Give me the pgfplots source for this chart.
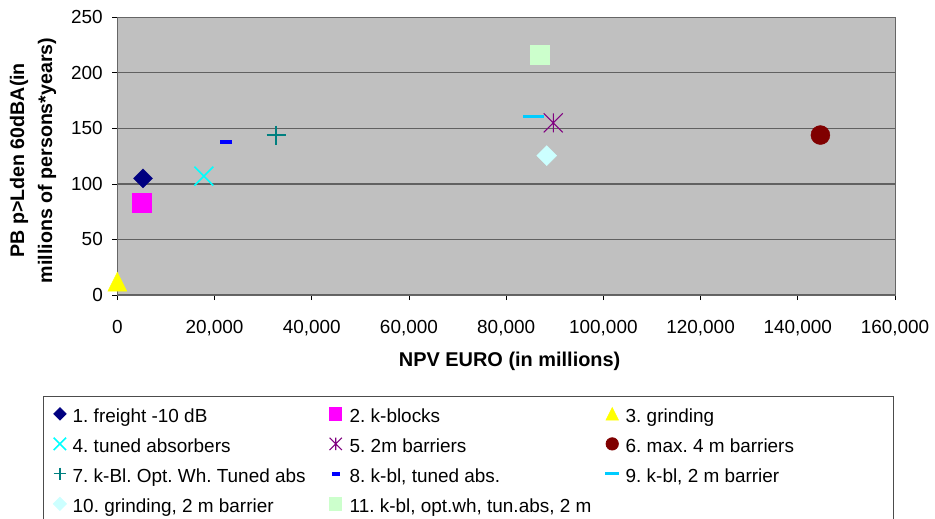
\documentclass[border=0pt]{standalone}
\usepackage{pgfplots}
\pgfplotsset{compat=1.18}
\usepackage{fontspec}
\setmainfont{Liberation Sans}
\frenchspacing

\definecolor{bgray}{HTML}{C0C0C0}
\definecolor{cnavy}{HTML}{000080}
\definecolor{cmag}{HTML}{FF00FF}
\definecolor{cyel}{HTML}{FFFF00}
\definecolor{ccyan}{HTML}{00FFFF}
\definecolor{cpurp}{HTML}{800080}
\definecolor{cdred}{HTML}{800000}
\definecolor{cteal}{HTML}{008080}
\definecolor{cblue}{HTML}{0000FF}
\definecolor{csky}{HTML}{00CCFF}
\definecolor{clcyan}{HTML}{CCFFFF}
\definecolor{clgreen}{HTML}{CCFFCC}

% excel-like marks
\pgfdeclareplotmark{xdiamond*}{%
  \pgfpathmoveto{\pgfqpoint{0pt}{\pgfplotmarksize}}%
  \pgfpathlineto{\pgfqpoint{\pgfplotmarksize}{0pt}}%
  \pgfpathlineto{\pgfqpoint{0pt}{-\pgfplotmarksize}}%
  \pgfpathlineto{\pgfqpoint{-\pgfplotmarksize}{0pt}}%
  \pgfpathclose\pgfusepathqfillstroke}
\pgfdeclareplotmark{xtri*}{%
  \pgfpathmoveto{\pgfqpoint{0pt}{\pgfplotmarksize}}%
  \pgfpathlineto{\pgfqpoint{\pgfplotmarksize}{-\pgfplotmarksize}}%
  \pgfpathlineto{\pgfqpoint{-\pgfplotmarksize}{-\pgfplotmarksize}}%
  \pgfpathclose\pgfusepathqfillstroke}
\pgfdeclareplotmark{xstar}{%
  \pgfpathmoveto{\pgfqpoint{0pt}{-\pgfplotmarksize}}%
  \pgfpathlineto{\pgfqpoint{0pt}{\pgfplotmarksize}}%
  \pgfpathmoveto{\pgfqpoint{-\pgfplotmarksize}{-\pgfplotmarksize}}%
  \pgfpathlineto{\pgfqpoint{\pgfplotmarksize}{\pgfplotmarksize}}%
  \pgfpathmoveto{\pgfqpoint{-\pgfplotmarksize}{\pgfplotmarksize}}%
  \pgfpathlineto{\pgfqpoint{\pgfplotmarksize}{-\pgfplotmarksize}}%
  \pgfusepathqstroke}

\newcommand{\legtxt}[2]{\makebox[#1][l]{\rule[-8.5bp]{0pt}{28bp}#2}}

\begin{document}
\begin{tikzpicture}[font=\fontsize{19}{23}\selectfont]
\path[use as bounding box] (0,0) rectangle (935bp,-519bp);
\begin{axis}[
  at={(117.3bp,-295bp)}, anchor=south west,
  scale only axis, width=777.7bp, height=277.7bp,
  clip=false,
  xmin=0, xmax=160000, ymin=0, ymax=250,
  scaled x ticks=false, scaled y ticks=false,
  xtick={0,20000,40000,60000,80000,100000,120000,140000,160000},
  xticklabels={0,{20,000},{40,000},{60,000},{80,000},{100,000},{120,000},{140,000},{160,000}},
  ytick={0,50,100,150,200,250},
  yticklabels={0,50,100,150,200,250},
  tick pos=left, tick align=outside, major tick length=5bp,
  tick style={black, line width=0.8bp},
  axis background/.style={fill=bgray},
  axis line style={draw=black!60, line width=1bp},
  ymajorgrids, grid style={draw=black!62, line width=1.2bp},
  ticklabel style={font=\fontsize{19}{23}\selectfont},
  xticklabel style={yshift=-17bp},
  yticklabel style={xshift=-6bp},
  xlabel={NPV EURO (in millions)},
  ylabel={PB p>Lden 60dBA(in\\millions of persons*years)},
  every axis x label/.style={at={(axis description cs:0.5045,-0.2377)}, anchor=center,
    font=\fontsize{20}{24}\selectfont\bfseries},
  every axis y label/.style={at={(axis description cs:-0.1084,0.485)}, rotate=90, anchor=center,
    align=center, font=\fontsize{19.7}{28}\selectfont\bfseries},
  legend columns=3,
  legend image code/.code={\path (-7bp,0bp) (7bp,0bp);
    \draw[#1, mark options={scale=0.65}] plot coordinates {(0bp,0bp)};},
  legend style={at={(axis description cs:-0.0959,-0.3637)}, anchor=north west,
    draw=black!70, line width=0.8bp, fill=white, inner xsep=9bp, inner ysep=7bp,
    nodes={inner sep=0pt}, row sep=9bp,
    font=\fontsize{19}{23}\selectfont,
    /tikz/every odd column/.append style={column sep=5bp},
    /tikz/every even column/.append style={column sep=7bp}},
  legend cell align=left,
]
\addplot[color=cnavy, mark=xdiamond*, mark size=9.5bp] coordinates {(5300,105)};
\addlegendentry{\legtxt{247bp}{1. freight -10 dB}}
\addplot[color=cmag, mark=square*, mark size=9.5bp] coordinates {(5100,83)};
\addlegendentry{\legtxt{247bp}{2. k-blocks}}
\addplot[color=cyel, mark=xtri*, mark size=9.5bp] coordinates {(0,12)};
\addlegendentry{\legtxt{259bp}{3. grinding}}
\addplot[color=ccyan, mark=x, mark size=13.4bp, line width=1.6bp] coordinates {(17800,107)};
\addlegendentry{\legtxt{247bp}{4. tuned absorbers}}
\addplot[color=cpurp, mark=xstar, mark size=9.5bp, line width=1.1bp] coordinates {(89700,155)};
\addlegendentry{\legtxt{247bp}{5. 2m barriers}}
\addplot[color=cdred, mark=*, mark size=9.5bp] coordinates {(144650,144)};
\addlegendentry{\legtxt{259bp}{6. max. 4 m barriers}}
\addplot[color=cteal, mark=+, mark size=9.5bp, line width=1.2bp] coordinates {(32650,144)};
\addlegendentry{\legtxt{247bp}{7. k-Bl. Opt. Wh. Tuned abs}}
\addplot[color=cblue, mark=-, mark size=6bp, line width=4bp] coordinates {(22400,138)};
\addlegendentry{\legtxt{247bp}{8. k-bl, tuned abs.}}
\addplot[color=csky, mark=-, mark size=10.5bp, line width=3bp] coordinates {(85600,161)};
\addlegendentry{\legtxt{259bp}{9. k-bl, 2 m barrier}}
\addplot[color=clcyan, mark=xdiamond*, mark size=10bp] coordinates {(88350,125.5)};
\addlegendentry{\legtxt{247bp}{10. grinding, 2 m barrier}}
\addplot[color=clgreen, mark=square*, mark size=9.5bp] coordinates {(86800,216)};
\addlegendentry{\legtxt{247bp}{11. k-bl, opt.wh, tun.abs, 2 m}}
\end{axis}
\end{tikzpicture}
\end{document}
